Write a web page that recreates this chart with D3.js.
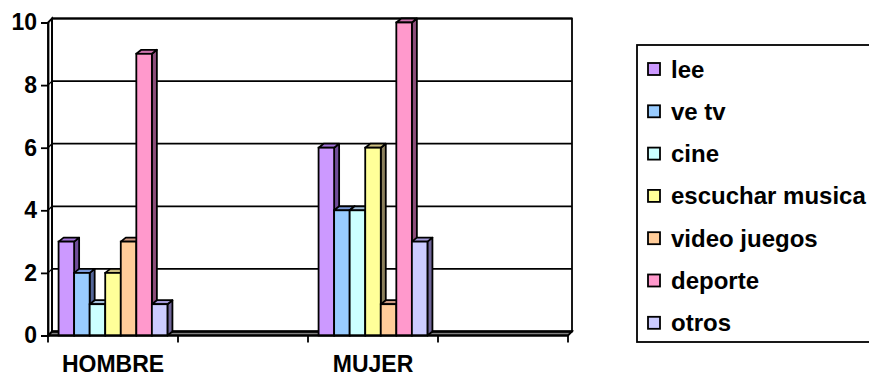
<!DOCTYPE html>
<html>
<head>
<meta charset="utf-8">
<script src="https://cdn.jsdelivr.net/npm/d3@7"></script>
<style>
  html, body { margin: 0; padding: 0; background: #fff; }
  svg { display: block; font-family: "Liberation Sans", Arial, sans-serif; font-weight: bold; }
</style>
</head>
<body>
<svg id="chart" width="869" height="375"></svg>
<script>
// Category slots on the x axis (two of them carry no data)
const categories = ["HOMBRE", "", "MUJER", ""];
const seriesNames = ["lee", "ve tv", "cine", "escuchar musica", "video juegos", "deporte", "otros"];
const seriesColors = ["#CC99FF", "#99CCFF", "#CCFFFF", "#FFFF99", "#FFCC99", "#FF99CC", "#CCCCFF"];
// Values per series, one entry per category slot
const lee        = [3, null, 6, null];
const veTv       = [2, null, 4, null];
const cine       = [1, null, 4, null];
const escuchar   = [2, null, 6, null];
const videoJuegos= [3, null, 1, null];
const deporte    = [9, null, 10, null];
const otros      = [1, null, 3, null];
const seriesValues = [lee, veTv, cine, escuchar, videoJuegos, deporte, otros];
const yTicks = [0, 2, 4, 6, 8, 10];

const svg = d3.select("#chart");

// Plot geometry
const plotLeft = 48, plotRight = 568, plotBottom = 335.5, plotTop = 22.5;
const wallDX = 4, wallDY = -4;     // depth of walls/floor
const barDX = 5, barDY = -4;       // depth of each column
const sw = 1.8;                    // outline width

const x = d3.scaleBand().domain(d3.range(categories.length)).range([plotLeft, plotRight]);
const inner = d3.scaleBand().domain(seriesNames).range([0, x.bandwidth()]).paddingOuter(0.68);
const y = d3.scaleLinear().domain([0, 10]).range([plotBottom, plotTop]);

const ink = "#000";

// Floor (grey strip)
svg.append("path")
  .attr("d", `M${plotLeft},${plotBottom} L${plotLeft + wallDX},${plotBottom + wallDY} L${plotRight + wallDX},${plotBottom + wallDY} L${plotRight},${plotBottom} Z`)
  .attr("fill", "#808080").attr("stroke", ink).attr("stroke-width", sw);

// Left wall
svg.append("path")
  .attr("d", `M${plotLeft},${plotBottom} L${plotLeft},${plotTop} L${plotLeft + wallDX},${plotTop + wallDY} L${plotLeft + wallDX},${plotBottom + wallDY} Z`)
  .attr("fill", "#fff").attr("stroke", ink).attr("stroke-width", sw);

// Back wall outline
svg.append("rect")
  .attr("x", plotLeft + wallDX).attr("y", plotTop + wallDY)
  .attr("width", plotRight - plotLeft).attr("height", plotBottom - plotTop)
  .attr("fill", "none").attr("stroke", ink).attr("stroke-width", sw);

// Gridlines on the back wall and their diagonal on the left wall
const grid = svg.append("g");
yTicks.forEach(t => {
  grid.append("line")
    .attr("x1", plotLeft + wallDX).attr("x2", plotRight + wallDX)
    .attr("y1", y(t) + wallDY).attr("y2", y(t) + wallDY)
    .attr("stroke", ink).attr("stroke-width", sw);
  grid.append("line")
    .attr("x1", plotLeft).attr("x2", plotLeft + wallDX)
    .attr("y1", y(t)).attr("y2", y(t) + wallDY)
    .attr("stroke", ink).attr("stroke-width", 1.3);
});

// Columns: side face, top face, front face, drawn left to right
const bars = svg.append("g");
categories.forEach((cat, ci) => {
  seriesNames.forEach((name, si) => {
    const v = seriesValues[si][ci];
    if (v == null) return;
    const c = d3.color(seriesColors[si]);
    const x0 = x(ci) + inner(name), w = inner.bandwidth();
    const x1 = x0 + w, y0 = y(v), yb = y(0);
    const side = d3.rgb(c.r * 0.55, c.g * 0.5, c.b * 0.6);
    const topC = d3.rgb(c.r * 0.8, c.g * 0.75, c.b * 0.85);
    bars.append("path")
      .attr("d", `M${x1},${yb} L${x1},${y0} L${x1 + barDX},${y0 + barDY} L${x1 + barDX},${yb + barDY} Z`)
      .attr("fill", side).attr("stroke", ink).attr("stroke-width", sw).attr("stroke-linejoin", "round");
    bars.append("path")
      .attr("d", `M${x0},${y0} L${x0 + barDX},${y0 + barDY} L${x1 + barDX},${y0 + barDY} L${x1},${y0} Z`)
      .attr("fill", topC).attr("stroke", ink).attr("stroke-width", sw).attr("stroke-linejoin", "round");
    bars.append("rect")
      .attr("x", x0).attr("y", y0).attr("width", w).attr("height", yb - y0)
      .attr("fill", c).attr("stroke", ink).attr("stroke-width", sw);
  });
});

// Y axis
const yAxis = svg.append("g").attr("transform", `translate(${plotLeft},0)`)
  .call(d3.axisLeft(y).tickValues(yTicks).tickSize(7).tickPadding(4).tickFormat(d3.format("d")));
yAxis.select(".domain").attr("stroke", ink).attr("stroke-width", sw);
yAxis.selectAll(".tick line").attr("stroke", ink).attr("stroke-width", sw);
yAxis.selectAll(".tick text").attr("font-size", 23).attr("font-weight", "bold")
  .attr("font-family", "Liberation Sans, Arial, sans-serif").attr("fill", "#000");

// X axis with ticks at category boundaries
const xAxisG = svg.append("g");
xAxisG.append("line").attr("x1", plotLeft).attr("x2", plotRight).attr("y1", plotBottom).attr("y2", plotBottom)
  .attr("stroke", ink).attr("stroke-width", 2.2);
d3.range(categories.length + 1).forEach(i => {
  const xp = i < categories.length ? x(i) : plotRight;
  xAxisG.append("line").attr("x1", xp).attr("x2", xp).attr("y1", plotBottom).attr("y2", plotBottom + 7)
    .attr("stroke", ink).attr("stroke-width", sw);
});
xAxisG.selectAll("text.cat").data(categories).join("text")
  .attr("class", "cat")
  .attr("x", (d, i) => x(i) + x.bandwidth() / 2)
  .attr("y", 371.5)
  .attr("text-anchor", "middle")
  .attr("font-size", 23)
  .text(d => d);

// Legend
const legend = svg.append("g");
legend.append("rect").attr("x", 637).attr("y", 45).attr("width", 300).attr("height", 297)
  .attr("fill", "#fff").attr("stroke", ink).attr("stroke-width", sw);
seriesNames.forEach((name, i) => {
  const cy = 69 + i * 42.3;
  legend.append("rect").attr("x", 648).attr("y", cy - 6).attr("width", 12).attr("height", 12)
    .attr("fill", seriesColors[i]).attr("stroke", ink).attr("stroke-width", sw);
  legend.append("text").attr("x", 671).attr("y", cy + 8.5).attr("font-size", 24).text(name);
});
</script>
</body>
</html>
